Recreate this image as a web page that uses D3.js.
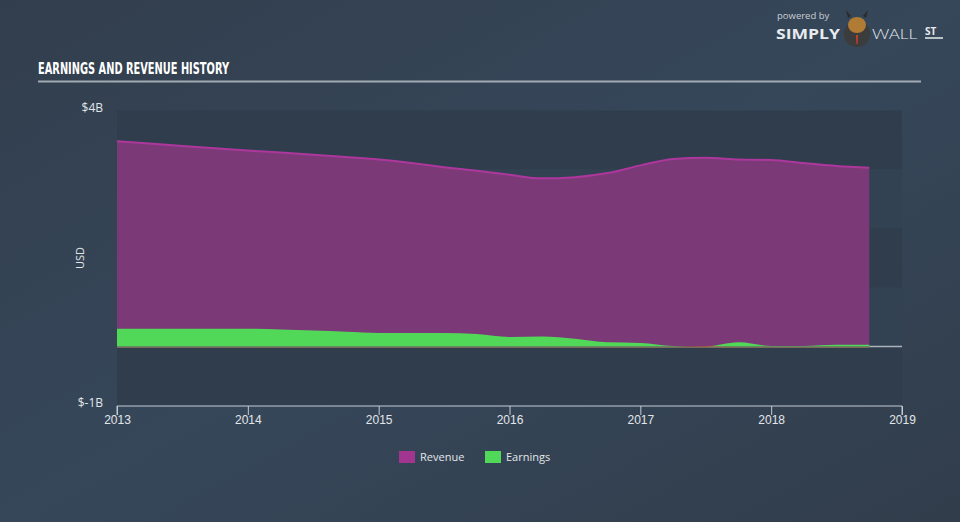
<!DOCTYPE html>
<html><head><meta charset="utf-8">
<script src="https://cdn.jsdelivr.net/npm/d3@7"></script>
<style>
html,body{margin:0;padding:0;background:#344151;}
svg{display:block;font-family:"Open Sans","DejaVu Sans",sans-serif;}
</style></head>
<body><svg id="c" width="960" height="522"></svg>
<script>
const dates = [2013.0,2013.25,2013.5,2013.75,2014.0,2014.25,2014.5,2014.75,2015.0,2015.25,2015.5,2015.75,2016.0,2016.25,2016.5,2016.75,2017.0,2017.25,2017.5,2017.75,2018.0,2018.25,2018.5,2018.75];
const revenue = [3.48,3.44,3.40,3.36,3.32,3.29,3.25,3.21,3.17,3.11,3.04,2.98,2.91,2.85,2.87,2.94,3.07,3.18,3.20,3.17,3.16,3.11,3.06,3.03];
const earnings = [0.30,0.30,0.30,0.30,0.30,0.29,0.27,0.25,0.23,0.23,0.23,0.21,0.16,0.17,0.13,0.07,0.06,0.01,-0.01,0.07,0.01,0.01,0.03,0.03];
const xTicks = [2013,2014,2015,2016,2017,2018,2019];
const yTicks = [4,-1];
const yTickLabels = ["$4B","$-1B"];
const seriesNames = ["Revenue","Earnings"];
const seriesColors = ["#a2358f","#52d858"];

const svg = d3.select("#c");
const defs = svg.append("defs");
const bg = defs.append("linearGradient").attr("id","bg").attr("x1","0").attr("y1","0").attr("x2","1").attr("y2","1");
bg.append("stop").attr("offset","0").attr("stop-color","#323e4d");
bg.append("stop").attr("offset","0.5").attr("stop-color","#36475a");
bg.append("stop").attr("offset","1").attr("stop-color","#313d4b");
svg.append("rect").attr("width",960).attr("height",522).attr("fill","url(#bg)");

const x = d3.scaleLinear().domain([2013,2019]).range([117,902]);
const y = d3.scaleLinear().domain([-1,4]).range([405.5,110.5]);

// bands
const bands = [[4,3],[3,2],[2,1],[1,0],[0,-1]];
bands.forEach((b,i)=>{
  svg.append("rect").attr("x",x(2013)).attr("y",y(b[0])).attr("width",x(2019)-x(2013)).attr("height",y(b[1])-y(b[0]))
    .attr("fill", i%2===0 ? "#2f3d4c" : "#334252");
});

const data = dates.map((d,i)=>({d, r:revenue[i], e:earnings[i]}));
const curve = d3.curveMonotoneX;

svg.append("path").datum(data)
  .attr("d", d3.area().x(p=>x(p.d)).y0(y(0)).y1(p=>y(p.r)).curve(curve))
  .attr("fill","#7b3a77");
svg.append("path").datum(data)
  .attr("d", d3.line().x(p=>x(p.d)).y(p=>y(p.r)).curve(curve))
  .attr("fill","none").attr("stroke","#ad379c").attr("stroke-width",2);

svg.append("path").datum(data)
  .attr("d", d3.area().x(p=>x(p.d)).y0(y(0)).y1(p=>y(Math.max(0,p.e))).curve(curve))
  .attr("fill","#52d858");
svg.append("path").datum(data)
  .attr("d", d3.area().x(p=>x(p.d)).y0(y(0)).y1(p=>y(Math.min(0,p.e))).curve(curve))
  .attr("fill","#d6622c");
svg.append("path").datum(data)
  .attr("d", d3.line().x(p=>x(p.d)).y(p=>y(0)+0.8).curve(curve))
  .attr("fill","none").attr("stroke","#c9a06a").attr("stroke-width",1).attr("opacity",0.6);

// zero line
svg.append("line").attr("x1",x(dates[dates.length-1])).attr("x2",x(2019)).attr("y1",y(0)).attr("y2",y(0))
  .attr("stroke","#aab2bb").attr("stroke-width",1.5);

// x axis
const xa = svg.append("g").attr("transform",`translate(0,${y(-1)+0.5})`)
  .call(d3.axisBottom(x).tickValues(xTicks).tickFormat(d3.format("d")).tickSize(9));
xa.select(".domain").attr("stroke","#c3cbd3").attr("d",`M${x(2013)},9V0H${x(2019)}V9`);
xa.selectAll(".tick line").attr("stroke","#c3cbd3");
xa.selectAll(".tick text").attr("fill","#e2e6ea").attr("font-size",12).attr("dy","0.5em");

// y labels
yTicks.forEach((v,i)=>{
  svg.append("text").attr("x",103).attr("y",y(v)).attr("dy","0.15em").attr("text-anchor","end")
    .attr("fill","#e2e6ea").attr("font-size",12).text(yTickLabels[i]);
});
svg.append("text").attr("transform","translate(84,258) rotate(-90)").attr("text-anchor","middle")
  .attr("fill","#e2e6ea").attr("font-size",11).text("USD");

// title
svg.append("text").attr("x",38).attr("y",74).attr("fill","#ffffff")
  .attr("font-family","'Liberation Sans Narrow','DejaVu Sans Condensed',sans-serif").attr("font-weight","bold")
  .attr("font-size",16).attr("textLength",191).attr("lengthAdjust","spacingAndGlyphs").text("EARNINGS AND REVENUE HISTORY");
svg.append("line").attr("x1",38).attr("x2",921).attr("y1",81.5).attr("y2",81.5).attr("stroke","#a2aab3").attr("stroke-width",2);

// legend
const lg = svg.append("g");
const lx = [399,485];
seriesNames.forEach((n,i)=>{
  lg.append("rect").attr("x",lx[i]).attr("y",451).attr("width",16).attr("height",12).attr("fill",seriesColors[i]);
  lg.append("text").attr("x",lx[i]+21).attr("y",461).attr("fill","#e2e6ea").attr("font-size",11).text(n);
});

// logo
const logo = svg.append("g");
logo.append("text").attr("x",777).attr("y",19).attr("fill","#c9ced4").attr("font-size",9.5).text("powered by");
logo.append("text").attr("x",776).attr("y",39).attr("fill","#e8ebee").attr("font-size",14).attr("font-weight","bold")
  .attr("textLength",64).attr("lengthAdjust","spacingAndGlyphs").text("SIMPLY");
logo.append("circle").attr("cx",857).attr("cy",34).attr("r",13).attr("fill","#3c3c3c");
logo.append("ellipse").attr("cx",857).attr("cy",25).attr("rx",9).attr("ry",8).attr("fill","#b07c35");
logo.append("path").attr("d","M848,18 L846,10 L851,16 Z M866,18 L868,10 L863,16 Z").attr("fill","#2a2a2a");
logo.append("path").attr("d","M856,35 L858,35 L857.5,44 L856.5,44 Z").attr("fill","#d0402a");
logo.append("text").attr("x",872).attr("y",39).attr("fill","#e8ebee").attr("font-size",14)
  .attr("font-family","Lato,'Open Sans',sans-serif").attr("font-weight",300)
  .attr("textLength",45).attr("lengthAdjust","spacingAndGlyphs").text("WALL");
logo.append("text").attr("x",925).attr("y",35).attr("fill","#e8ebee").attr("font-size",10).attr("font-weight","bold").text("ST");
logo.append("line").attr("x1",925).attr("x2",943).attr("y1",38).attr("y2",38).attr("stroke","#e8ebee").attr("stroke-width",1.5);
</script>
</body></html>
